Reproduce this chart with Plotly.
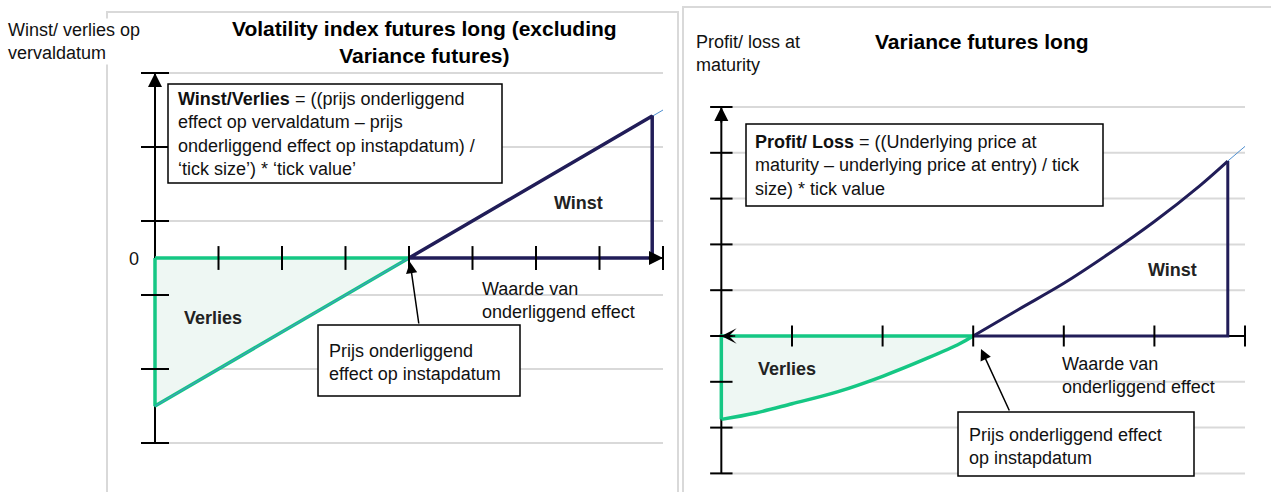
import plotly.graph_objects as go

W, H = 1271, 492

# ---------------- data: left panel (Volatility index futures long) ----------------
vix_ticks_x = [1, 2, 3, 4, 5, 6, 7, 8]
vix_grid_y = [2.5, 1.5, 0.5, -0.5, -1.5, -2.5]
vix_entry = 4
vix_loss_x = [0, 4, 0]
vix_loss_y = [0.0, 0.0, -2.0]
vix_gain_x = [4, 7.83, 7.83]
vix_gain_y = [0.0, 1.92, 0.0]
vix_ref_x = [0, 8]
vix_ref_y = [-2.0, 2.0]

# ---------------- data: right panel (Variance futures long) ----------------
var_axis_x = 0.22
var_ticks_x = [1, 2, 3, 4, 5, 6]
var_grid_y = [-3, -2, -1, 0, 1, 2, 3, 4, 5]
var_entry = 3
var_loss_x = [0.22, 0.6, 1.0, 1.5, 2.0, 2.5, 2.85, 3.0]
var_loss_y = [-1.82, -1.68, -1.48, -1.22, -0.88, -0.48, -0.17, 0.0]
var_gain_x = [3.0, 3.5, 4.0, 4.5, 5.0, 5.5, 5.81]
var_gain_y = [0.0, 0.58, 1.15, 1.80, 2.50, 3.28, 3.82]
var_ref_x = [5.81, 6.0]
var_ref_y = [3.82, 4.14]

# ---------------- styling ----------------
FONT = "Liberation Sans, Arial, Helvetica, sans-serif"
BLACK = "#000000"
TXT = "#111111"
GREEN = "#15c784"
MINT = "#eef7f3"
NAVY = "#211d58"
BLUE = "#4f8fd0"
GRID = "#d9d9d9"
BODY = 18


def px_x(p):
    return p / W


def px_y(p):
    return 1 - p / H


def dom_x(lo, hi, dA, pA, dB, pB):
    s = (pB - pA) / (dB - dA)
    return [(pA + (lo - dA) * s) / W, (pA + (hi - dA) * s) / W]


def dom_y(lo, hi, dA, pA, dB, pB):
    s = (pB - pA) / (dB - dA)
    return [1 - (pA + (lo - dA) * s) / H, 1 - (pA + (hi - dA) * s) / H]


# axis ranges and pixel calibration
L_xr = [-0.3, 8.3]
L_yr = [-2.7, 2.7]
R_xr = [0.0, 6.25]
R_yr = [-3.3, 5.3]

fig = go.Figure()


def line(x, y, color, width, xa, ya, shape="linear"):
    fig.add_trace(go.Scatter(x=x, y=y, mode="lines", xaxis=xa, yaxis=ya,
                             line=dict(color=color, width=width, shape=shape),
                             hoverinfo="skip", showlegend=False))


def ticks(x, y, symbol, size, xa, ya):
    fig.add_trace(go.Scatter(x=x, y=y, mode="markers", xaxis=xa, yaxis=ya,
                             marker=dict(symbol=symbol, size=size, color=BLACK,
                                         line=dict(color=BLACK, width=2)),
                             cliponaxis=False, hoverinfo="skip", showlegend=False))


# ======== LEFT PANEL ========
lx_max = max(vix_ticks_x)
line([0, lx_max], [0, 0], BLACK, 2, "x", "y")
line([0, 0], [min(vix_grid_y), max(vix_grid_y)], BLACK, 2, "x", "y")
fig.add_trace(go.Scatter(x=vix_loss_x + [vix_loss_x[0]], y=vix_loss_y + [vix_loss_y[0]],
                         mode="lines", fill="toself", fillcolor=MINT, xaxis="x", yaxis="y",
                         line=dict(color=GREEN, width=3.5), hoverinfo="skip", showlegend=False))
line(vix_ref_x, vix_ref_y, BLUE, 1, "x", "y")
line(vix_gain_x + [vix_gain_x[0]], vix_gain_y + [vix_gain_y[0]], NAVY, 3.5, "x", "y")
ticks(vix_ticks_x, [0] * len(vix_ticks_x), "line-ns", 17, "x", "y")
ticks([0] * len(vix_grid_y), vix_grid_y, "line-ew", 20, "x", "y")

# ======== RIGHT PANEL ========
rx_max = max(var_ticks_x)
line([var_axis_x, rx_max], [0, 0], BLACK, 2, "x2", "y2")
line([var_axis_x, var_axis_x], [min(var_grid_y), max(var_grid_y)], BLACK, 2, "x2", "y2")
fig.add_trace(go.Scatter(x=var_loss_x + [var_loss_x[0]], y=var_loss_y + [0.0],
                         mode="lines", fill="toself", fillcolor=MINT, xaxis="x2", yaxis="y2",
                         line=dict(width=0, color=MINT), hoverinfo="skip", showlegend=False))
line(var_loss_x, var_loss_y, GREEN, 3.5, "x2", "y2", shape="spline")
line([var_entry, var_loss_x[0], var_loss_x[0]], [0, 0, var_loss_y[0]], GREEN, 3.5, "x2", "y2")
line(var_ref_x, var_ref_y, BLUE, 1, "x2", "y2")
line(var_gain_x, var_gain_y, NAVY, 3, "x2", "y2", shape="spline")
line([var_gain_x[-1], var_gain_x[-1], var_entry], [var_gain_y[-1], 0, 0], NAVY, 3, "x2", "y2")
ticks(var_ticks_x, [0] * len(var_ticks_x), "line-ns", 15, "x2", "y2")
ticks([var_axis_x] * len(var_grid_y), var_grid_y, "line-ew", 16, "x2", "y2")

# ---------------- shapes ----------------
shapes = []
shapes.append(dict(type="rect", xref="paper", yref="paper", x0=px_x(107), x1=px_x(678),
                   y0=px_y(520), y1=px_y(12), line=dict(color=GRID, width=2), layer="below"))
shapes.append(dict(type="rect", xref="paper", yref="paper", x0=px_x(683), x1=px_x(1290),
                   y0=px_y(520), y1=px_y(7), line=dict(color=GRID, width=2), layer="below"))
for gy in vix_grid_y:
    shapes.append(dict(type="line", xref="x", yref="y", x0=0, x1=lx_max, y0=gy, y1=gy,
                       line=dict(color=GRID, width=2), layer="below"))
for gy in var_grid_y:
    shapes.append(dict(type="line", xref="x2", yref="y2", x0=var_axis_x, x1=rx_max, y0=gy, y1=gy,
                       line=dict(color=GRID, width=2), layer="below"))
for (x0, y0, x1, y1) in [(168, 84, 502, 183), (318, 325, 520, 396),
                         (746, 124, 1103, 206), (958, 412, 1194, 476)]:
    shapes.append(dict(type="rect", xref="paper", yref="paper", x0=px_x(x0), x1=px_x(x1),
                       y0=px_y(y1), y1=px_y(y0), line=dict(color=BLACK, width=1.5),
                       fillcolor="white", layer="above"))

# ---------------- annotations ----------------
ann = []


def text(t, x, y, size=BODY, xanchor="left", yanchor="middle", align="left", color=TXT, **kw):
    d = dict(text=t, xref="paper", yref="paper", x=px_x(x), y=px_y(y), xanchor=xanchor,
             yanchor=yanchor, align=align, showarrow=False,
             font=dict(family=FONT, size=size, color=color))
    d.update(kw)
    ann.append(d)


text("<b>Volatility index futures long (excluding<br>Variance futures)</b>", 424, 41.5,
     size=21, xanchor="center", align="center", color=BLACK)
text("<b>Variance futures long</b>", 982, 42, size=21, xanchor="center", align="center", color=BLACK)
text("Winst/ verlies op<br>vervaldatum", 6, 42, bgcolor="white", borderpad=1)
text("Profit/ loss at<br>maturity", 694, 54)
text("0", 141, 259, xanchor="right")
text("<b>Winst</b>", 578, 203, xanchor="center", color="#222222")
text("<b>Verlies</b>", 213, 318, xanchor="center", color="#222222")
text("Waarde van<br>onderliggend effect", 480, 300.5)
text("<b>Winst/Verlies</b> = ((prijs onderliggend<br>effect op vervaldatum – prijs<br>"
     "onderliggend effect op instapdatum) /<br>‘tick size’) * ‘tick value’", 176, 134)
text("Prijs onderliggend<br>effect op instapdatum", 327, 362)
text("<b>Winst</b>", 1172, 270, xanchor="center", color="#222222")
text("<b>Verlies</b>", 787, 369, xanchor="center", color="#222222")
text("Waarde van<br>onderliggend effect", 1060, 375.5)
text("<b>Profit/ Loss</b> = ((Underlying price at<br>maturity – underlying price at entry) / tick<br>"
     "size) * tick value", 753, 165)
text("Prijs onderliggend effect<br>op instapdatum", 967, 446)

ann.append(dict(text="", xref="paper", yref="paper", x=px_x(410), y=px_y(262), ax=9, ay=63,
                showarrow=True, arrowhead=2, arrowsize=1.5, arrowwidth=1.5, arrowcolor=BLACK))
ann.append(dict(text="", xref="paper", yref="paper", x=px_x(981), y=px_y(349), ax=29, ay=63,
                showarrow=True, arrowhead=2, arrowsize=1.5, arrowwidth=1.5, arrowcolor=BLACK))

ann.append(dict(text="", xref="x", yref="y", x=0, y=max(vix_grid_y), axref="x", ayref="y",
                ax=0, ay=max(vix_grid_y) - 0.23, showarrow=True, arrowhead=2, arrowsize=1.4,
                arrowwidth=2, arrowcolor=BLACK))
ann.append(dict(text="", xref="x", yref="y", x=lx_max, y=0, axref="x", ayref="y",
                ax=lx_max - 0.25, ay=0, showarrow=True, arrowhead=2, arrowsize=1.4,
                arrowwidth=2, arrowcolor=BLACK))
ann.append(dict(text="", xref="x2", yref="y2", x=var_axis_x, y=max(var_grid_y), axref="x2",
                ayref="y2", ax=var_axis_x, ay=max(var_grid_y) - 0.37, showarrow=True,
                arrowhead=2, arrowsize=1.4, arrowwidth=2, arrowcolor=BLACK))
ann.append(dict(text="", xref="x2", yref="y2", x=var_axis_x, y=0, axref="x2", ayref="y2",
                ax=var_axis_x + 0.17, ay=0, showarrow=True, arrowhead=3, arrowsize=1.7,
                arrowwidth=1.5, arrowcolor=BLACK))

ax_common = dict(visible=False, fixedrange=True, showgrid=False, zeroline=False)
fig.update_layout(
    width=W, height=H, autosize=False,
    margin=dict(l=0, r=0, t=0, b=0, pad=0),
    paper_bgcolor="white", plot_bgcolor="rgba(0,0,0,0)",
    showlegend=False,
    xaxis=dict(range=L_xr, domain=dom_x(L_xr[0], L_xr[1], 0, 155, 8, 663), anchor="y", **ax_common),
    yaxis=dict(range=L_yr, domain=dom_y(L_yr[0], L_yr[1], 0, 258, 2.5, 73), anchor="x", **ax_common),
    xaxis2=dict(range=R_xr, domain=dom_x(R_xr[0], R_xr[1], 1, 792, 6, 1245), anchor="y2", **ax_common),
    yaxis2=dict(range=R_yr, domain=dom_y(R_yr[0], R_yr[1], 0, 336, 5, 107), anchor="x2", **ax_common),
    shapes=shapes,
    annotations=ann,
    font=dict(family=FONT, color=TXT),
)

fig.write_html("out.html", config={"displayModeBar": False},
               post_script="document.body.style.margin='0';document.body.style.overflow='hidden';")
